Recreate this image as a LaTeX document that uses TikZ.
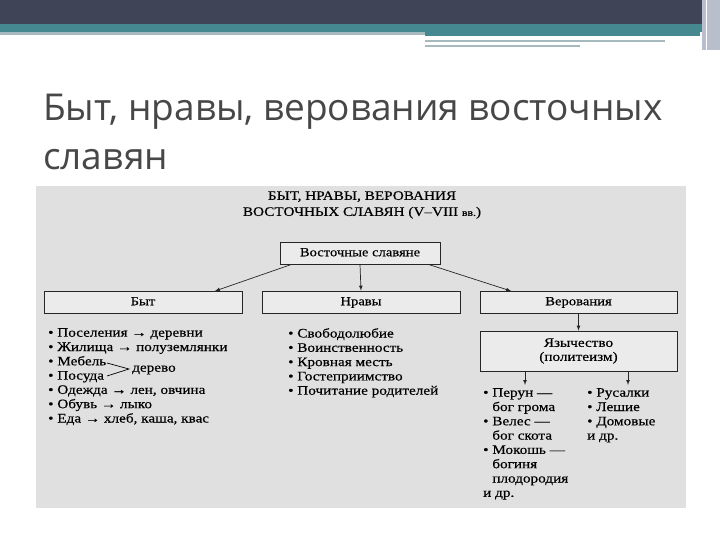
\documentclass[tikz,border=0pt]{standalone}
\usepackage{fontspec}
\setmainfont{Liberation Serif}
\newfontfamily\titlefont{Open Sans}
\newfontfamily\diag[FakeStretch=1.17,FakeBold=0.4]{Liberation Serif}
\begin{document}
\begin{tikzpicture}[x=1pt,y=-1pt,
  bx/.style={draw=black!85,line width=0.8pt,fill=black!8,minimum height=22pt,inner sep=0pt,text height=9pt,text depth=2.5pt,font=\diag\fontsize{12.5}{13}\selectfont},
  arr/.style={-latex,line width=0.7pt,black!85},
  lst/.style={anchor=north west,align=left,inner sep=0pt,font=\diag\fontsize{13}{14.3}\selectfont}]
\useasboundingbox (0,0) rectangle (720,540);
\fill[white] (0,0) rectangle (720,540);
\fill[color={rgb,255:red,63;green,68;blue,86}] (0,0) rectangle (720,24);
\fill[color={rgb,255:red,70;green,136;blue,144}] (0,24) rectangle (720,32);
\fill[color={rgb,255:red,165;green,185;blue,190}] (0,32) rectangle (425,35);
\fill[color={rgb,255:red,70;green,136;blue,144}] (425,32) rectangle (700,36);
\fill[color={rgb,255:red,165;green,185;blue,190}] (425,40) rectangle (665,42);
\fill[color={rgb,255:red,165;green,185;blue,190}] (425,45) rectangle (580,47);
\fill[color={rgb,255:red,185;green,190;blue,205}] (702,0) rectangle (720,50);
\draw[white,line width=1pt] (706,0) -- (706,50);
\node[anchor=base west,inner sep=0pt,text=black!72,font=\titlefont\fontsize{37}{40}\selectfont] (t1) at (43,121) {Быт, нравы, верования восточных};
\node[anchor=base west,inner sep=0pt,text=black!72,font=\titlefont\fontsize{37}{40}\selectfont] (t2) at (43,170) {славян};
\fill[black!12] (36,186) rectangle (686,508);
\node[align=center,font=\diag\fontsize{13}{16}\selectfont,inner sep=0pt] (h) at (362,205) {БЫТ, НРАВЫ, ВЕРОВАНИЯ\\ВОСТОЧНЫХ СЛАВЯН (V–VIII {\fontsize{10}{10}\selectfont вв.})};
\node[bx,minimum width=160pt] (vs) at (360,253) {Восточные славяне};
\node[bx,minimum width=198pt] (byt) at (143,302) {Быт};
\node[bx,minimum width=198pt] (nr) at (361,302) {Нравы};
\node[bx,minimum width=197pt] (ver) at (578.5,302) {Верования};
\node[bx,minimum width=197pt,minimum height=40pt,text height=,text depth=,align=center,font=\diag\fontsize{13}{14}\selectfont] (yaz) at (578.5,351) {Язычество\\(политеизм)};
\draw[arr] (vs.south west)++(12,0) -- (215,291);
\draw[arr] (vs.south) -- (nr.north);
\draw[arr] (vs.south east)++(-12,0) -- (511,291);
\draw[arr] (ver.south) -- (yaz.north);
\coordinate (a1) at (525,385); \coordinate (a2) at (628,385);
\draw[arr] (525,371) -- (a1);
\draw[arr] (628,371) -- (a2);
\node[lst] (l1) at (48,328) {• Поселения → деревни\\• Жилища → полуземлянки\\• Мебель\\• Посуда\\• Одежда → лен, овчина\\• Обувь → лыко\\• Еда → хлеб, каша, квас};
\node[lst,anchor=west] (der) at (132,370) {дерево};
\draw[line width=0.7pt] (107,363) -- (129,369) -- (107,376);
\node[lst] (l2) at (288,328) {• Свободолюбие\\• Воинственность\\• Кровная месть\\• Гостеприимство\\• Почитание родителей};
\node[lst] (l3) at (483,388) {• Перун —\\\hphantom{• }бог грома\\• Велес —\\\hphantom{• }бог скота\\• Мокошь —\\\hphantom{• }богиня\\\hphantom{• }плодородия\\и др.};
\node[lst] (l4) at (587,388) {• Русалки\\• Лешие\\• Домовые\\и др.};
\end{tikzpicture}
\end{document}
